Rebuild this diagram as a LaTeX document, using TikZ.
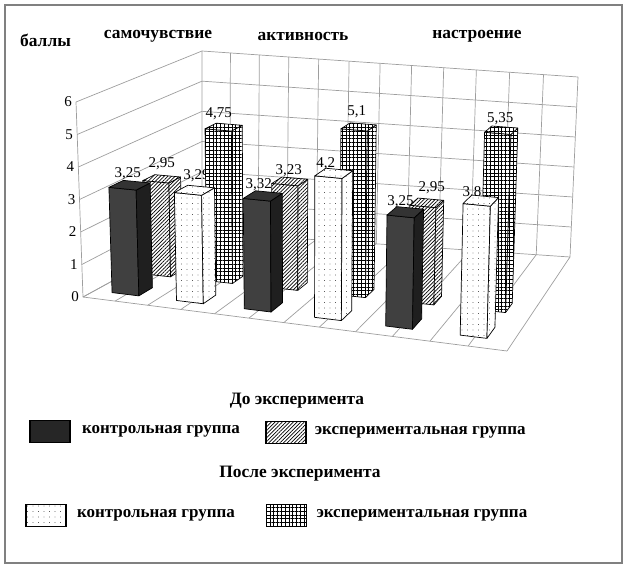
\documentclass[tikz,border=0pt]{standalone}
\usepackage{fontspec}
\setmainfont{Liberation Serif}
\usetikzlibrary{positioning, patterns.meta}

% point of the plot box: U along categories, V in depth, height in points (0..6)
\newcommand{\mkpt}[4]{%
  \pgfmathsetmacro\ptU{#2}%
  \pgfmathsetmacro\ptV{#3}%
  \pgfmathsetmacro\ptW{(#4)/6}%
  \pgfmathsetmacro\ptX{(1-\ptW)*((1-\ptV)*(83+424*\ptU)+\ptV*(202+368*\ptU))+\ptW*((1-\ptV)*(76+437*\ptU)+\ptV*(202+376*\ptU))}%
  \pgfmathsetmacro\ptY{(1-\ptW)*((1-\ptV)*(297+54*\ptU)+\ptV*(232+25*\ptU))+\ptW*((1-\ptV)*(102+36*\ptU)+\ptV*(51+26*\ptU))}%
  \coordinate (#1) at (\ptX,\ptY);}

% one column: name, U centre, V front, V back, height, style
\newcommand{\prism}[6]{%
  \mkpt{#1-a}{#2-0.032}{#3}{0}
  \mkpt{#1-b}{#2+0.032}{#3}{0}
  \mkpt{#1-c}{#2+0.032}{#4}{0}
  \mkpt{#1-d}{#2-0.032}{#3}{#5}
  \mkpt{#1-e}{#2+0.032}{#3}{#5}
  \mkpt{#1-f}{#2+0.032}{#4}{#5}
  \mkpt{#1-g}{#2-0.032}{#4}{#5}
  \draw[#6 front] (#1-a) -- (#1-b) -- (#1-e) -- (#1-d) -- cycle;
  \draw[#6 side] (#1-b) -- (#1-c) -- (#1-f) -- (#1-e) -- cycle;
  \draw[#6 top] (#1-d) -- (#1-e) -- (#1-f) -- (#1-g) -- cycle;}

\tikzset{
  gridline/.style={draw=black!38, line width=0.7pt},
  frame/.style={draw=black!50, line width=1.2pt},
  rim/.style={draw=black, line width=0.7pt, line join=round},
  hatchfill/.style={preaction={fill=white}, pattern={Lines[angle=45, distance=2.6pt, line width=0.7pt]}},
  speckfill/.style={preaction={fill=white}, pattern={Dots[distance=5.5pt, radius=0.45pt]}},
  meshfill/.style={preaction={fill=white}, pattern={Hatch[distance=3.8pt, line width=0.6pt]}},
  darkbar front/.style={rim, fill=black!75},
  darkbar side/.style={rim, fill=black!88},
  darkbar top/.style={rim, fill=black!80},
  hatchbar front/.style={rim, hatchfill},
  hatchbar side/.style={rim, hatchfill},
  hatchbar top/.style={rim, hatchfill},
  speckbar front/.style={rim, speckfill},
  speckbar side/.style={rim, speckfill},
  speckbar top/.style={rim, speckfill},
  meshbar front/.style={rim, meshfill},
  meshbar side/.style={rim, meshfill},
  meshbar top/.style={rim, meshfill},
  val/.style={font=\fontsize{15}{17}\selectfont, inner sep=0pt},
  tick/.style={font=\fontsize{15}{17}\selectfont, inner sep=0pt},
  head/.style={font=\bfseries\fontsize{17.4}{20}\selectfont, inner sep=0pt},
  legtext/.style={font=\bfseries\fontsize{17}{20}\selectfont, inner sep=0pt},
  legbox/.style={rectangle, draw=black, line width=1.6pt, minimum width=40pt, minimum height=22pt, inner sep=0pt}
}

% name / U / value / style / label / label shift x / label shift y
\def\frontrow{f1/0.073/3.25/darkbar/{3,25}/-2/12, f2/0.227/3.29/speckbar/{3,29}/2/15, f3/0.389/3.32/darkbar/{3,32}/-4/11,
  f4/0.557/4.2/speckbar/{4,2}/-8/10, f5/0.727/3.25/darkbar/{3,25}/-5/10, f6/0.905/3.8/speckbar/{3,8}/-9/8}
\def\backrow{b1/0.073/2.95/hatchbar/{2,95}/0/15, b2/0.227/4.75/meshbar/{4,75}/-5/13, b3/0.389/3.23/hatchbar/{3,23}/-1/11,
  b4/0.557/5.1/meshbar/{5,1}/-2/15, b5/0.727/2.95/hatchbar/{2,95}/5/15, b6/0.905/5.35/meshbar/{5,35}/-1/12}

\begin{document}
\begin{tikzpicture}[x=1pt, y=-1pt]
    \useasboundingbox (0,0) rectangle (628,572);
    \draw[frame] (5,5) rectangle (622,563);

    % walls and floor
    \foreach \k in {0,...,6} {
        \mkpt{l\k}{0}{0}{\k}
        \mkpt{m\k}{0}{1}{\k}
        \mkpt{r\k}{1}{1}{\k}
        \draw[gridline] (l\k) -- (m\k) -- (r\k);
        \node[tick, left=4pt of l\k] (n\k) {\k};
    }
    \foreach \k in {0,...,12} {
        \pgfmathsetmacro\uk{0.9*\k/12/(1-0.1*\k/12)}
        \mkpt{fa\k}{\uk}{0}{0}
        \mkpt{fb\k}{\uk}{1}{0}
        \mkpt{fc\k}{\uk}{1}{6}
        \draw[gridline] (fa\k) -- (fb\k) -- (fc\k);
    }
    \draw[gridline] (l0) -- (l6);
    \draw[gridline] (fa0) -- (fa12);

    % labels of the front row lie under the back row
    \foreach \nm/\xu/\hh/\sty/\txt/\sx/\sy in \frontrow {
        \mkpt{\nm-t}{\xu}{0.16}{\hh}
        \node[val, xshift=\sx pt, yshift=\sy pt] (\nm-l) at (\nm-t) {\txt};
    }
    \foreach \nm/\xu/\hh/\sty/\txt/\sx/\sy in \backrow {
        \prism{\nm}{\xu}{0.38}{0.48}{\hh}{\sty}
        \mkpt{\nm-t}{\xu}{0.43}{\hh}
        \node[val, xshift=\sx pt, yshift=\sy pt] (\nm-l) at (\nm-t) {\txt};
    }
    \foreach \nm/\xu/\hh/\sty/\txt/\sx/\sy in \frontrow {
        \prism{\nm}{\xu}{0.10}{0.22}{\hh}{\sty}
    }

    % titles
    \node[head, anchor=west] (ball) at (20,40) {баллы};
    \node[head] (cat1) at (158,36) {самочувствие};
    \node[head] (cat2) at (303,36) {активность};
    \node[head] (cat3) at (477,36) {настроение};

    % legend
    \node[head] (before) at (297,401) {До эксперимента};
    \node[legbox, fill=black!85] (kb) at (50,431.5) {};
    \node[legtext, right=11pt of kb] (kt) {контрольная группа};
    \node[legbox, line width=1.2pt, hatchfill] (hb) at (286,432.5) {};
    \node[legtext, right=8pt of hb] (ht) {экспериментальная группа};
    \node[head] (after) at (300,474) {После эксперимента};
    \node[legbox, speckfill] (sb) at (46,515.5) {};
    \node[legtext, right=10pt of sb] (st) {контрольная группа};
    \node[legbox, meshfill] (mb) at (286.5,515.5) {};
    \node[legtext, right=9pt of mb] (mt) {экспериментальная группа};
\end{tikzpicture}
\end{document}
